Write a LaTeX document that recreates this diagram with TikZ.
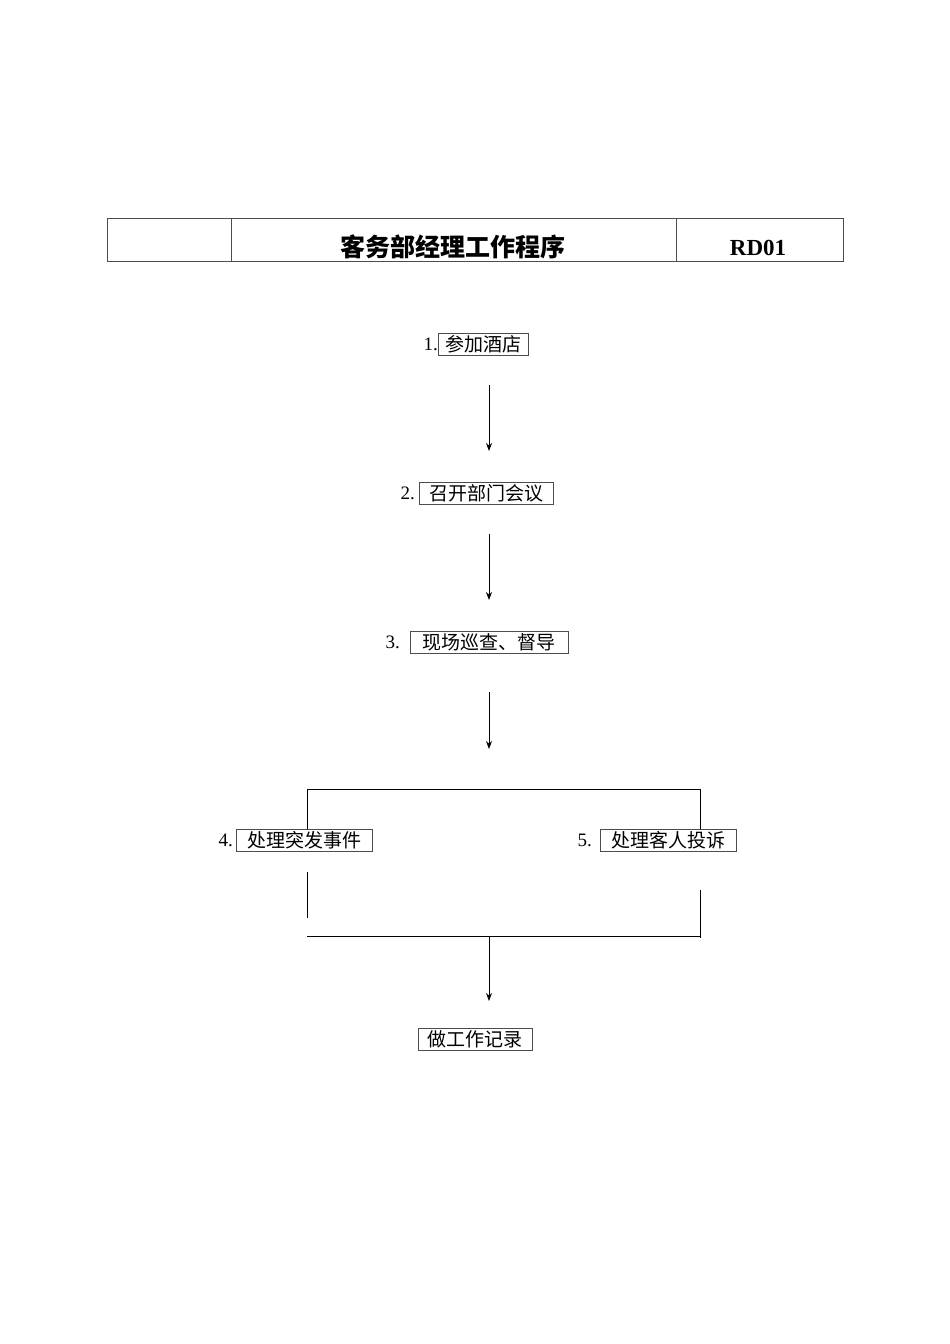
\documentclass[tikz,border=0pt]{standalone}
\usepackage{fontspec}
\setmainfont{Liberation Serif}
\newfontfamily\cjk{Noto Sans CJK SC}
\usetikzlibrary{arrows.meta}
\begin{document}
\begin{tikzpicture}[x=1pt,y=-1pt,
  bx/.style={draw=black!70,line width=0.6pt,inner sep=0pt,minimum height=22pt,font=\cjk\fontsize{19}{19}\selectfont},
  num/.style={inner sep=0pt,font=\fontsize{19}{19}\selectfont,anchor=east},
  ln/.style={line width=0.8pt},
  ar/.style={line width=0.8pt,-{Stealth[length=8pt,width=6pt]}}]
\useasboundingbox (0,0) rectangle (950,1344);
% header table
\draw[line width=0.8pt,black!70] (107,218) rectangle (843,261);
\draw[line width=0.8pt,black!70] (231,218) -- (231,261) (676,218) -- (676,261);
\node[font=\cjk\bfseries\fontsize{25}{25}\selectfont] (title) at (453,247) {客务部经理工作程序};
\node[font=\bfseries\fontsize{23}{23}\selectfont] (code) at (758,248) {RD01};
% steps
\node[bx,minimum width=90pt] (b1) at (483,344) {参加酒店};
\node[num] (n1) at (438,344) {1.};
\node[bx,minimum width=134pt] (b2) at (486,493) {召开部门会议};
\node[num] (n2) at (415,493) {2.};
\node[bx,minimum width=158pt] (b3) at (489,642) {现场巡查、督导};
\node[num] (n3) at (400,642) {3.};
\node[bx,minimum width=136pt] (b4) at (304,840) {处理突发事件};
\node[num] (n4) at (233,840) {4.};
\node[bx,minimum width=136pt] (b5) at (668,840) {处理客人投诉};
\node[num] (n5) at (592,840) {5.};
\node[bx,minimum width=114pt] (b6) at (475,1039) {做工作记录};
% connectors
\coordinate (a1s) at (489,385); \coordinate (a1e) at (489,451);
\coordinate (a2s) at (489,534); \coordinate (a2e) at (489,600);
\coordinate (a3s) at (489,692); \coordinate (a3e) at (489,749);
\coordinate (a4s) at (489,937); \coordinate (a4e) at (489,1001);
\draw[ar] (a1s) -- (a1e);
\draw[ar] (a2s) -- (a2e);
\draw[ar] (a3s) -- (a3e);
\draw[ar] (a4s) -- (a4e);
\coordinate (tl) at (307,789); \coordinate (tr) at (700,789);
\draw[ln] (307,829) -- (tl) -- (tr) -- (700,829);
\draw[ln] (307,872) -- (307,918);
\draw[ln] (700,890) -- (700,938);
\draw[ln] (307,936) -- (700,936);
\end{tikzpicture}
\end{document}
